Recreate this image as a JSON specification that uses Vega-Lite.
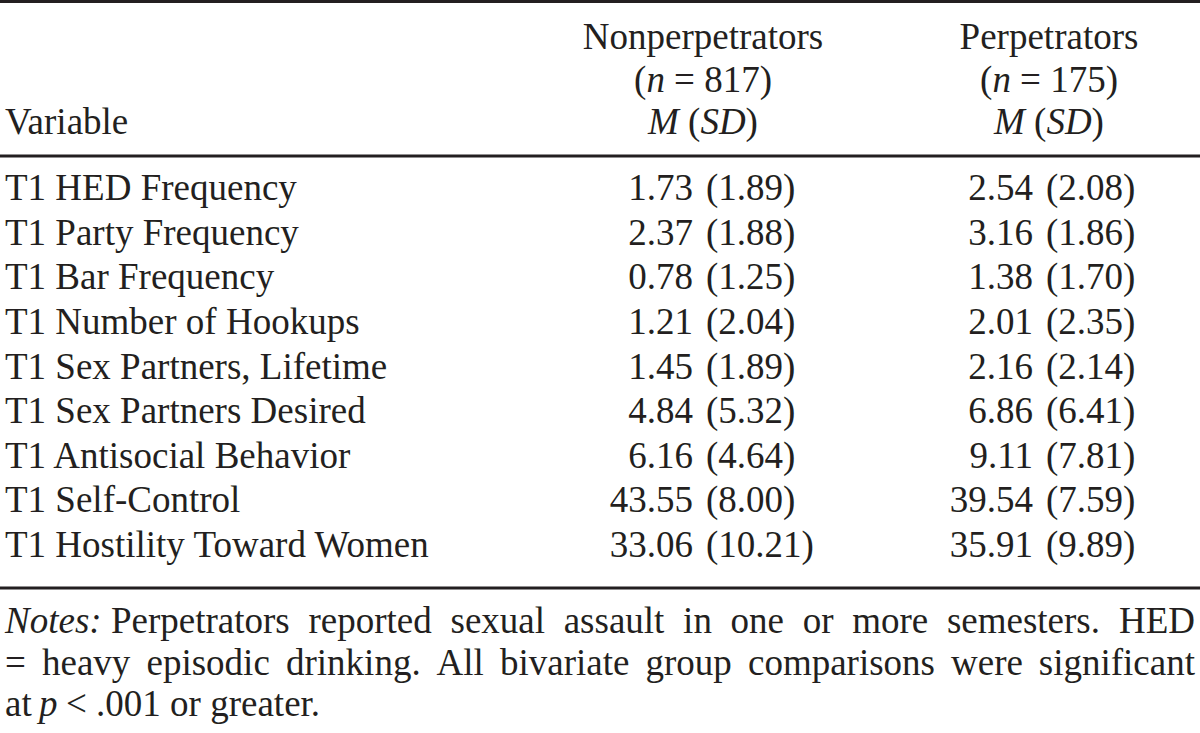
{
  "$schema": "https://vega.github.io/schema/vega-lite/v6.json",
  "width": 1200,
  "height": 733,
  "autosize": {"type": "none"},
  "padding": 0,
  "background": "white",
  "config": {
    "view": {"stroke": null},
    "text": {"font": "Liberation Serif", "fontSize": 37, "color": "#231f20", "baseline": "alphabetic"},
    "rule": {"color": "#231f20", "strokeWidth": 2.8}
  },
  "datasets": {
    "stats": [
      {"Variable": "T1 HED Frequency", "Group": "Nonperpetrators", "M": 1.73, "SD": 1.89},
      {"Variable": "T1 HED Frequency", "Group": "Perpetrators", "M": 2.54, "SD": 2.08},
      {"Variable": "T1 Party Frequency", "Group": "Nonperpetrators", "M": 2.37, "SD": 1.88},
      {"Variable": "T1 Party Frequency", "Group": "Perpetrators", "M": 3.16, "SD": 1.86},
      {"Variable": "T1 Bar Frequency", "Group": "Nonperpetrators", "M": 0.78, "SD": 1.25},
      {"Variable": "T1 Bar Frequency", "Group": "Perpetrators", "M": 1.38, "SD": 1.70},
      {"Variable": "T1 Number of Hookups", "Group": "Nonperpetrators", "M": 1.21, "SD": 2.04},
      {"Variable": "T1 Number of Hookups", "Group": "Perpetrators", "M": 2.01, "SD": 2.35},
      {"Variable": "T1 Sex Partners, Lifetime", "Group": "Nonperpetrators", "M": 1.45, "SD": 1.89},
      {"Variable": "T1 Sex Partners, Lifetime", "Group": "Perpetrators", "M": 2.16, "SD": 2.14},
      {"Variable": "T1 Sex Partners Desired", "Group": "Nonperpetrators", "M": 4.84, "SD": 5.32},
      {"Variable": "T1 Sex Partners Desired", "Group": "Perpetrators", "M": 6.86, "SD": 6.41},
      {"Variable": "T1 Antisocial Behavior", "Group": "Nonperpetrators", "M": 6.16, "SD": 4.64},
      {"Variable": "T1 Antisocial Behavior", "Group": "Perpetrators", "M": 9.11, "SD": 7.81},
      {"Variable": "T1 Self-Control", "Group": "Nonperpetrators", "M": 43.55, "SD": 8.00},
      {"Variable": "T1 Self-Control", "Group": "Perpetrators", "M": 39.54, "SD": 7.59},
      {"Variable": "T1 Hostility Toward Women", "Group": "Nonperpetrators", "M": 33.06, "SD": 10.21},
      {"Variable": "T1 Hostility Toward Women", "Group": "Perpetrators", "M": 35.91, "SD": 9.89}
    ],
    "groups": [
      {"Group": "Nonperpetrators", "n": 817},
      {"Group": "Perpetrators", "n": 175}
    ]
  },
  "resolve": {"scale": {"x": "independent", "y": "independent"}},
  "layer": [
    {
      "data": {"values": [{"Rule": "top"}, {"Rule": "header"}]},
      "mark": {"type": "rule"},
      "encoding": {
        "y": {"field": "Rule", "type": "nominal", "scale": {"type": "point", "domain": ["top", "header"], "range": [1.5, 156], "padding": 0}, "axis": null}
      }
    },
    {
      "data": {"values": [{"Rule": "bottom"}]},
      "mark": {"type": "rule"},
      "encoding": {
        "y": {"field": "Rule", "type": "nominal", "scale": {"type": "point", "domain": ["bottom"], "range": [588, 588], "padding": 0}, "axis": null}
      }
    },
    {
      "data": {"values": [{"Label": "Variable"}]},
      "mark": {"type": "text", "align": "left"},
      "encoding": {
        "x": {"datum": "Variable", "type": "nominal", "scale": {"type": "point", "domain": ["Variable"], "range": [5, 5]}, "axis": null},
        "y": {"datum": "stats", "type": "nominal", "scale": {"type": "point", "domain": ["names", "n", "stats"], "range": [49, 134], "padding": 0}, "axis": null},
        "text": {"field": "Label"}
      }
    },
    {
      "data": {"name": "stats"},
      "transform": [{"filter": "datum.Group === 'Nonperpetrators'"}],
      "mark": {"type": "text", "align": "left"},
      "encoding": {
        "x": {"datum": "Variable", "type": "nominal", "scale": {"type": "point", "domain": ["Variable"], "range": [5, 5]}, "axis": null},
        "y": {"field": "Variable", "type": "nominal", "sort": null, "scale": {"type": "point", "range": [200, 557], "padding": 0}, "axis": null},
        "text": {"field": "Variable"}
      }
    },
    {
      "data": {"name": "groups"},
      "layer": [
        {
          "mark": {"type": "text", "align": "center"},
          "encoding": {
            "y": {"datum": "names", "type": "nominal", "scale": {"type": "point", "domain": ["names", "n", "stats"], "range": [49, 134], "padding": 0}, "axis": null},
            "text": {"field": "Group"}
          }
        },
        {
          "mark": {"type": "text", "align": "left", "dx": -69, "text": "("},
          "encoding": {
            "y": {"datum": "n", "type": "nominal", "scale": {"type": "point", "domain": ["names", "n", "stats"], "range": [49, 134], "padding": 0}, "axis": null}
          }
        },
        {
          "mark": {"type": "text", "align": "left", "dx": -56.5, "text": "n", "fontStyle": "italic"},
          "encoding": {
            "y": {"datum": "n", "type": "nominal", "scale": {"type": "point", "domain": ["names", "n", "stats"], "range": [49, 134], "padding": 0}, "axis": null}
          }
        },
        {
          "mark": {"type": "text", "align": "left", "dx": -29, "text": "="},
          "encoding": {
            "y": {"datum": "n", "type": "nominal", "scale": {"type": "point", "domain": ["names", "n", "stats"], "range": [49, 134], "padding": 0}, "axis": null}
          }
        },
        {
          "mark": {"type": "text", "align": "left", "dx": 1.2},
          "encoding": {
            "y": {"datum": "n", "type": "nominal", "scale": {"type": "point", "domain": ["names", "n", "stats"], "range": [49, 134], "padding": 0}, "axis": null},
            "text": {"field": "n", "type": "quantitative", "format": "d"}
          }
        },
        {
          "mark": {"type": "text", "align": "left", "dx": 56.7, "text": ")"},
          "encoding": {
            "y": {"datum": "n", "type": "nominal", "scale": {"type": "point", "domain": ["names", "n", "stats"], "range": [49, 134], "padding": 0}, "axis": null}
          }
        },
        {
          "mark": {"type": "text", "align": "left", "dx": -55, "text": "M", "fontStyle": "italic"},
          "encoding": {
            "y": {"datum": "stats", "type": "nominal", "scale": {"type": "point", "domain": ["names", "n", "stats"], "range": [49, 134], "padding": 0}, "axis": null}
          }
        },
        {
          "mark": {"type": "text", "align": "left", "dx": -14.9, "text": "("},
          "encoding": {
            "y": {"datum": "stats", "type": "nominal", "scale": {"type": "point", "domain": ["names", "n", "stats"], "range": [49, 134], "padding": 0}, "axis": null}
          }
        },
        {
          "mark": {"type": "text", "align": "left", "dx": -2.6, "text": "SD", "fontStyle": "italic"},
          "encoding": {
            "y": {"datum": "stats", "type": "nominal", "scale": {"type": "point", "domain": ["names", "n", "stats"], "range": [49, 134], "padding": 0}, "axis": null}
          }
        },
        {
          "mark": {"type": "text", "align": "left", "dx": 42.6, "text": ")"},
          "encoding": {
            "y": {"datum": "stats", "type": "nominal", "scale": {"type": "point", "domain": ["names", "n", "stats"], "range": [49, 134], "padding": 0}, "axis": null}
          }
        }
      ],
      "encoding": {
        "x": {"field": "Group", "type": "nominal", "scale": {"type": "point", "domain": ["Nonperpetrators", "Perpetrators"], "range": [703, 1049], "padding": 0}, "axis": null}
      },
      "resolve": {"scale": {"y": "independent"}}
    },
    {
      "data": {"name": "stats"},
      "layer": [
        {
          "mark": {"type": "text", "align": "right"},
          "encoding": {
            "text": {"field": "M", "type": "quantitative", "format": ".2f"}
          }
        },
        {
          "mark": {"type": "text", "align": "left", "dx": 13, "text": {"expr": "'(' + format(datum.SD, '.2f') + ')'"}},
          "encoding": {}
        }
      ],
      "encoding": {
        "x": {"field": "Group", "type": "nominal", "scale": {"type": "point", "domain": ["Nonperpetrators", "Perpetrators"], "range": [693, 1033], "padding": 0}, "axis": null},
        "y": {"field": "Variable", "type": "nominal", "sort": null, "scale": {"type": "point", "range": [200, 557], "padding": 0}, "axis": null}
      }
    },
    {
      "data": {"values": [{"Note": "Notes"}]},
      "layer": [
        {"mark": {"type": "text", "align": "left", "dx": 0, "text": "Notes:", "fontStyle": "italic"}, "encoding": {"y": {"datum": "l1", "type": "nominal", "scale": {"type": "point", "domain": ["l1", "l2", "l3"], "range": [633, 716], "padding": 0}, "axis": null}}},
        {"mark": {"type": "text", "align": "left", "dx": 106, "text": "Perpetrators"}, "encoding": {"y": {"datum": "l1", "type": "nominal", "scale": {"type": "point", "domain": ["l1", "l2", "l3"], "range": [633, 716], "padding": 0}, "axis": null}}},
        {"mark": {"type": "text", "align": "left", "dx": 303.5, "text": "reported"}, "encoding": {"y": {"datum": "l1", "type": "nominal", "scale": {"type": "point", "domain": ["l1", "l2", "l3"], "range": [633, 716], "padding": 0}, "axis": null}}},
        {"mark": {"type": "text", "align": "left", "dx": 445.5, "text": "sexual"}, "encoding": {"y": {"datum": "l1", "type": "nominal", "scale": {"type": "point", "domain": ["l1", "l2", "l3"], "range": [633, 716], "padding": 0}, "axis": null}}},
        {"mark": {"type": "text", "align": "left", "dx": 558.7, "text": "assault"}, "encoding": {"y": {"datum": "l1", "type": "nominal", "scale": {"type": "point", "domain": ["l1", "l2", "l3"], "range": [633, 716], "padding": 0}, "axis": null}}},
        {"mark": {"type": "text", "align": "left", "dx": 678.1, "text": "in"}, "encoding": {"y": {"datum": "l1", "type": "nominal", "scale": {"type": "point", "domain": ["l1", "l2", "l3"], "range": [633, 716], "padding": 0}, "axis": null}}},
        {"mark": {"type": "text", "align": "left", "dx": 725.6, "text": "one"}, "encoding": {"y": {"datum": "l1", "type": "nominal", "scale": {"type": "point", "domain": ["l1", "l2", "l3"], "range": [633, 716], "padding": 0}, "axis": null}}},
        {"mark": {"type": "text", "align": "left", "dx": 797.7, "text": "or"}, "encoding": {"y": {"datum": "l1", "type": "nominal", "scale": {"type": "point", "domain": ["l1", "l2", "l3"], "range": [633, 716], "padding": 0}, "axis": null}}},
        {"mark": {"type": "text", "align": "left", "dx": 847.2, "text": "more"}, "encoding": {"y": {"datum": "l1", "type": "nominal", "scale": {"type": "point", "domain": ["l1", "l2", "l3"], "range": [633, 716], "padding": 0}, "axis": null}}},
        {"mark": {"type": "text", "align": "left", "dx": 941.9, "text": "semesters."}, "encoding": {"y": {"datum": "l1", "type": "nominal", "scale": {"type": "point", "domain": ["l1", "l2", "l3"], "range": [633, 716], "padding": 0}, "axis": null}}},
        {"mark": {"type": "text", "align": "right", "dx": 1190, "text": "HED"}, "encoding": {"y": {"datum": "l1", "type": "nominal", "scale": {"type": "point", "domain": ["l1", "l2", "l3"], "range": [633, 716], "padding": 0}, "axis": null}}},
        {"mark": {"type": "text", "align": "left", "dx": 0, "text": "="}, "encoding": {"y": {"datum": "l2", "type": "nominal", "scale": {"type": "point", "domain": ["l1", "l2", "l3"], "range": [633, 716], "padding": 0}, "axis": null}}},
        {"mark": {"type": "text", "align": "left", "dx": 37, "text": "heavy"}, "encoding": {"y": {"datum": "l2", "type": "nominal", "scale": {"type": "point", "domain": ["l1", "l2", "l3"], "range": [633, 716], "padding": 0}, "axis": null}}},
        {"mark": {"type": "text", "align": "left", "dx": 141.5, "text": "episodic"}, "encoding": {"y": {"datum": "l2", "type": "nominal", "scale": {"type": "point", "domain": ["l1", "l2", "l3"], "range": [633, 716], "padding": 0}, "axis": null}}},
        {"mark": {"type": "text", "align": "left", "dx": 281, "text": "drinking."}, "encoding": {"y": {"datum": "l2", "type": "nominal", "scale": {"type": "point", "domain": ["l1", "l2", "l3"], "range": [633, 716], "padding": 0}, "axis": null}}},
        {"mark": {"type": "text", "align": "left", "dx": 431.5, "text": "All"}, "encoding": {"y": {"datum": "l2", "type": "nominal", "scale": {"type": "point", "domain": ["l1", "l2", "l3"], "range": [633, 716], "padding": 0}, "axis": null}}},
        {"mark": {"type": "text", "align": "left", "dx": 495, "text": "bivariate"}, "encoding": {"y": {"datum": "l2", "type": "nominal", "scale": {"type": "point", "domain": ["l1", "l2", "l3"], "range": [633, 716], "padding": 0}, "axis": null}}},
        {"mark": {"type": "text", "align": "left", "dx": 640.5, "text": "group"}, "encoding": {"y": {"datum": "l2", "type": "nominal", "scale": {"type": "point", "domain": ["l1", "l2", "l3"], "range": [633, 716], "padding": 0}, "axis": null}}},
        {"mark": {"type": "text", "align": "left", "dx": 743, "text": "comparisons"}, "encoding": {"y": {"datum": "l2", "type": "nominal", "scale": {"type": "point", "domain": ["l1", "l2", "l3"], "range": [633, 716], "padding": 0}, "axis": null}}},
        {"mark": {"type": "text", "align": "left", "dx": 946, "text": "were"}, "encoding": {"y": {"datum": "l2", "type": "nominal", "scale": {"type": "point", "domain": ["l1", "l2", "l3"], "range": [633, 716], "padding": 0}, "axis": null}}},
        {"mark": {"type": "text", "align": "right", "dx": 1190, "text": "significant"}, "encoding": {"y": {"datum": "l2", "type": "nominal", "scale": {"type": "point", "domain": ["l1", "l2", "l3"], "range": [633, 716], "padding": 0}, "axis": null}}},
        {"mark": {"type": "text", "align": "left", "dx": 0, "text": "at"}, "encoding": {"y": {"datum": "l3", "type": "nominal", "scale": {"type": "point", "domain": ["l1", "l2", "l3"], "range": [633, 716], "padding": 0}, "axis": null}}},
        {"mark": {"type": "text", "align": "left", "dx": 34, "text": "p", "fontStyle": "italic"}, "encoding": {"y": {"datum": "l3", "type": "nominal", "scale": {"type": "point", "domain": ["l1", "l2", "l3"], "range": [633, 716], "padding": 0}, "axis": null}}},
        {"mark": {"type": "text", "align": "left", "dx": 61, "text": "< .001 or greater."}, "encoding": {"y": {"datum": "l3", "type": "nominal", "scale": {"type": "point", "domain": ["l1", "l2", "l3"], "range": [633, 716], "padding": 0}, "axis": null}}}
      ],
      "encoding": {
        "x": {"datum": "Notes", "type": "nominal", "scale": {"type": "point", "domain": ["Notes"], "range": [5, 5]}, "axis": null}
      },
      "resolve": {"scale": {"y": "shared"}}
    }
  ]
}
